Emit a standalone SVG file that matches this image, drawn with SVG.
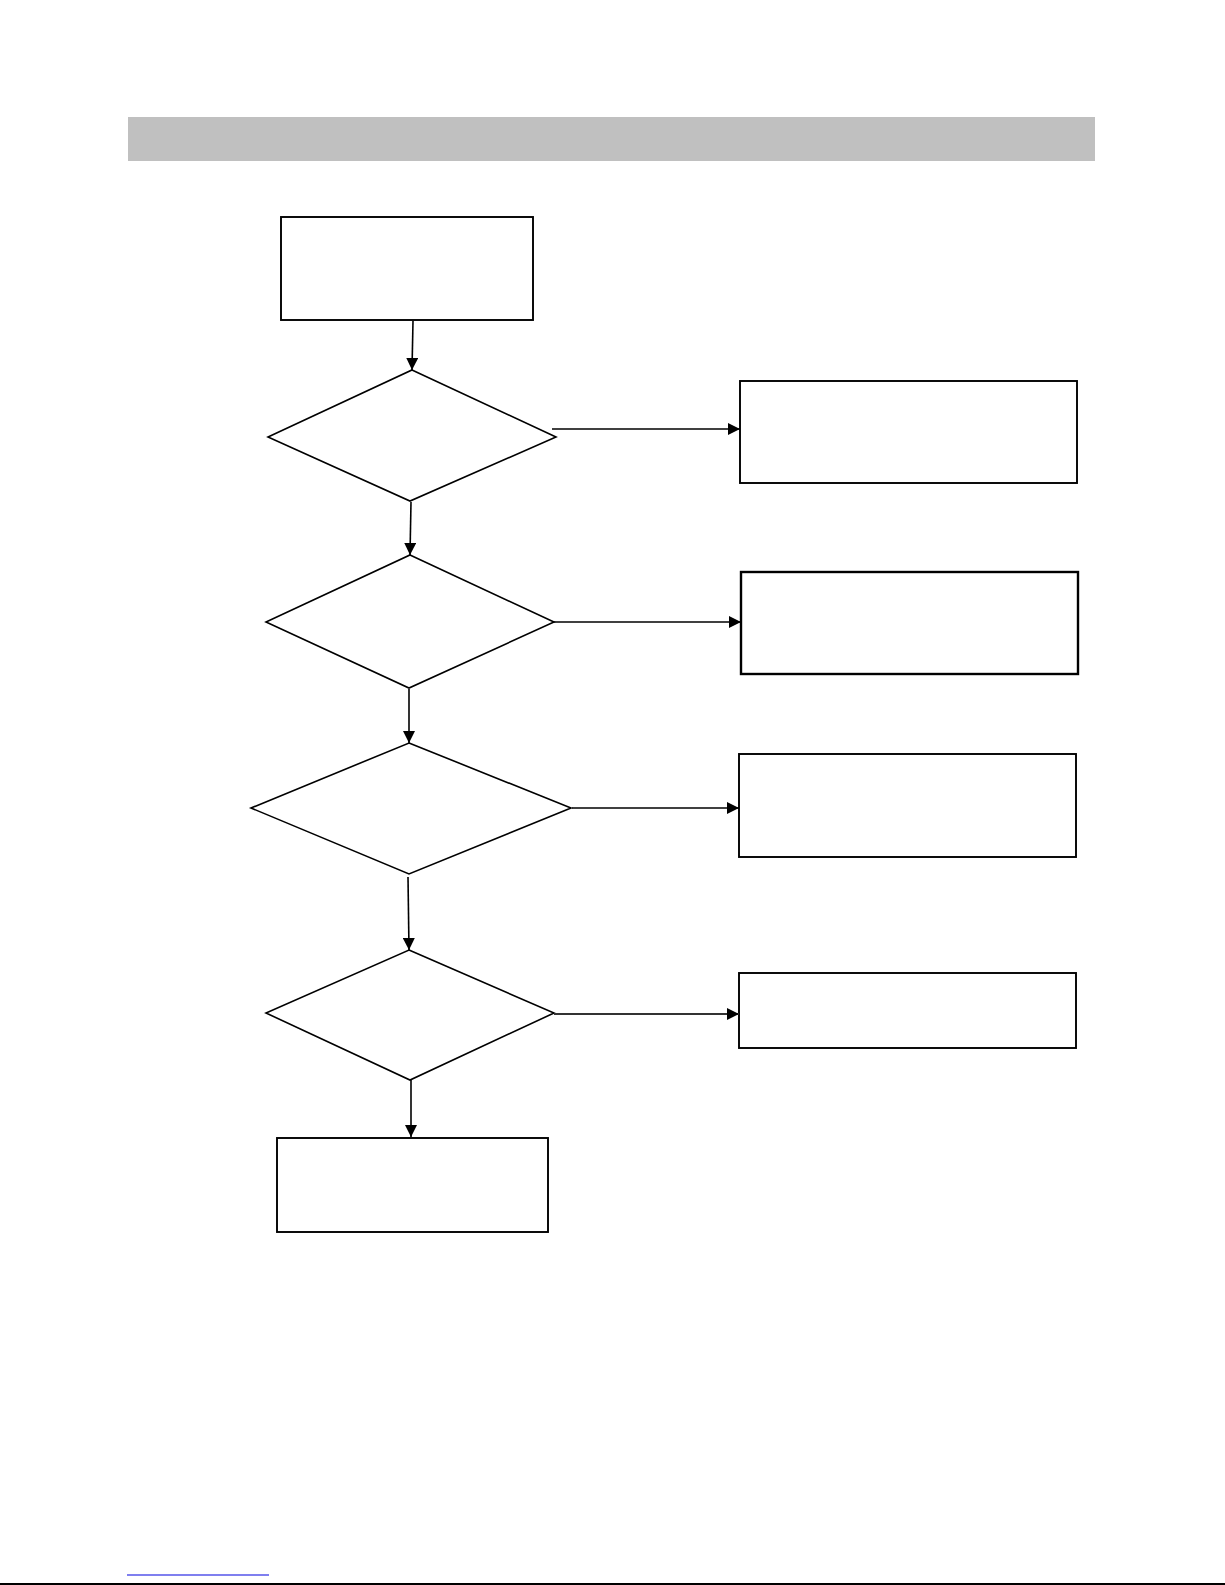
<svg xmlns="http://www.w3.org/2000/svg" width="1225" height="1585" viewBox="0 0 1225 1585">
<style>
.box{fill:#fff;stroke:#000;stroke-width:1.9}
.dia{fill:#fff;stroke:#000;stroke-width:1.6}
.con{fill:none;stroke:#000;stroke-width:1.6}
</style>
<defs>
<marker id="ah" markerUnits="userSpaceOnUse" markerWidth="12" markerHeight="12" refX="12" refY="6" orient="auto" viewBox="0 0 12 12">
<path d="M0,0 L12,6 L0,12 Z" fill="#000"/>
</marker>
</defs>
<rect width="1225" height="1585" fill="#fff"/>
<rect id="header" x="128" y="117" width="967" height="44" fill="#c0c0c0"/>
<g id="start"><rect class="box" x="281" y="217" width="252" height="103"/></g>
<g id="d1"><polygon class="dia" points="412,370 556,437 410,501 268,437"/></g>
<g id="d2"><polygon class="dia" points="410,555 554,622 409,688 266,622"/></g>
<g id="d3"><polygon class="dia" points="409,743 571,808 409,874 251,808"/></g>
<g id="d4"><polygon class="dia" points="409,950 554,1013 410,1080 266,1013"/></g>
<g id="b1"><rect class="box" x="740" y="381" width="337" height="102"/></g>
<g id="b2"><rect class="box" x="741" y="572" width="337" height="102" style="stroke-width:2.4"/></g>
<g id="b3"><rect class="box" x="739" y="754" width="337" height="103"/></g>
<g id="b4"><rect class="box" x="739" y="973" width="337" height="75"/></g>
<g id="end"><rect class="box" x="277" y="1138" width="271" height="94"/></g>
<g id="connectors">
<line class="con" x1="413" y1="321" x2="412" y2="370" marker-end="url(#ah)"/>
<line class="con" x1="411" y1="502" x2="410" y2="555" marker-end="url(#ah)"/>
<line class="con" x1="409" y1="689" x2="409" y2="743" marker-end="url(#ah)"/>
<line class="con" x1="408" y1="877" x2="409" y2="950" marker-end="url(#ah)"/>
<line class="con" x1="411" y1="1080" x2="411" y2="1137" marker-end="url(#ah)"/>
<line class="con" x1="552" y1="429" x2="740" y2="429" marker-end="url(#ah)"/>
<line class="con" x1="554" y1="622" x2="741" y2="622" marker-end="url(#ah)"/>
<line class="con" x1="572" y1="808" x2="739" y2="808" marker-end="url(#ah)"/>
<line class="con" x1="554" y1="1014" x2="739" y2="1014" marker-end="url(#ah)" style="stroke:#333;stroke-width:1.8"/>
</g>
<line x1="127" y1="1575" x2="269" y2="1575" stroke="#0000e0" stroke-width="1.2"/>
<line x1="0" y1="1584" x2="1225" y2="1584" stroke="#000" stroke-width="2"/>
</svg>
